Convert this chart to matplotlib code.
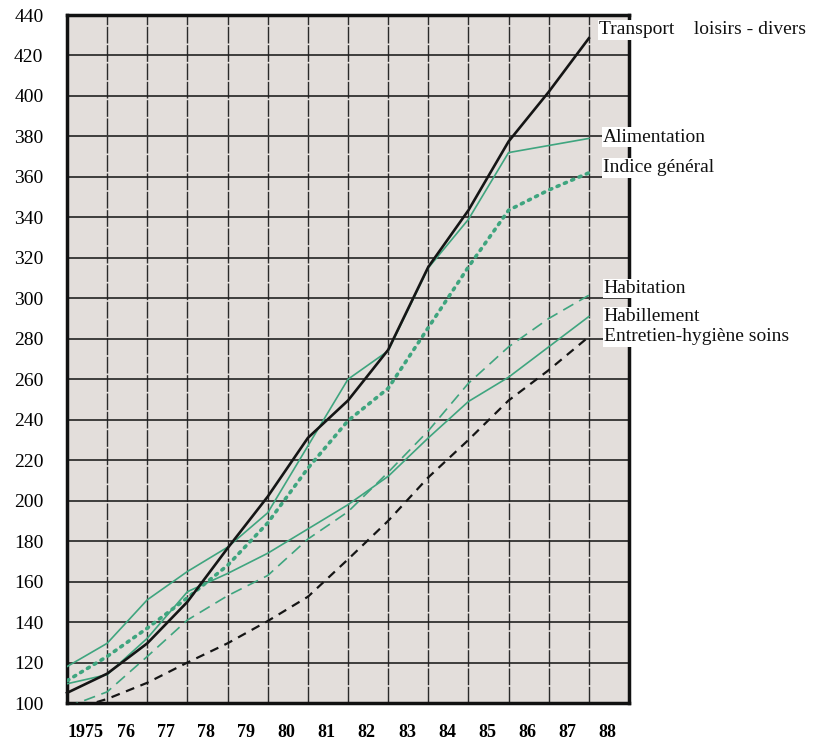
import matplotlib
matplotlib.use("Agg")
import matplotlib.pyplot as plt
import numpy as np

# ---------------- data ----------------
years = [1975, 1976, 1977, 1978, 1979, 1980, 1981, 1982, 1983, 1984, 1985, 1986, 1987, 1988]
year_labels = ["1975", "76", "77", "78", "79", "80", "81", "82", "83", "84", "85", "86", "87", "88"]

transport = [105, 114.5, 129.5, 150, 176.5, 202, 231, 249.5, 274.5, 315.5, 343.5, 377.5, 402, 428.5]
alimentation = [118, 129.5, 151, 165, 177, 194, 227, 260, 274, 315, 339, 372, 375.5, 379]
indice_general = [111, 123, 137, 152, 168, 189, 216, 239.5, 255.5, 285.5, 315.5, 343.5, 353.5, 362]
habitation = [98, 105.5, 123, 141, 153, 163, 181, 194.5, 214, 234.5, 258, 276, 290, 301.5]
habillement = [109.5, 114, 132, 155, 164, 174, 186, 198, 212, 231, 249, 261, 276, 291]
entretien = [96, 102, 110, 120, 129.5, 140.5, 152.5, 171, 190, 211.5, 230, 249.5, 264.5, 281]

series_names = ["Transport    loisirs - divers", "Alimentation", "Indice général",
                "Habitation", "Habillement", "Entretien-hygiène soins"]
y_ticks = list(range(100, 441, 20))

# ---------------- style ----------------
GREEN = "#3fa57f"
BG = "#e3dedb"
SERIF = ["Liberation Serif", "DejaVu Serif"]

fig = plt.figure(figsize=(8.14, 7.42), dpi=100)
ax = fig.add_axes([67 / 814, 1 - 703 / 742, (629 - 67) / 814, (703 - 15) / 742])
ax.set_facecolor(BG)

ax.set_xlim(1975, 1989)
ax.set_ylim(100, 440)

# grid
ax.set_xticks(np.arange(1975, 1990, 1))
ax.set_yticks(y_ticks)
ax.grid(axis="y", color="#222222", linewidth=1.2, zorder=1)
ax.grid(axis="x", color="#2a2a2a", linewidth=1.0, linestyle=(0, (12, 1.2)), zorder=1)
ax.set_axisbelow(True)
ax.set_xticklabels([])
ax.tick_params(axis="x", which="major", length=0)
ax.tick_params(axis="y", length=0, pad=17, labelsize=14)
for lab in ax.get_yticklabels():
    lab.set_family(SERIF)

# year labels as minor ticks between grid lines
ax.set_xticks([y + 0.47 for y in years], minor=True)
ax.set_xticklabels(year_labels, minor=True, fontfamily=SERIF, fontweight="bold", fontsize=13)
ax.tick_params(axis="x", which="minor", length=0, pad=15)

for s in ax.spines.values():
    s.set_linewidth(2.5)
    s.set_color("#111111")

# lines
ax.plot(years, transport, color="#151515", lw=1.9, zorder=5, clip_on=False)
ax.plot(years, alimentation, color=GREEN, lw=1.2, zorder=4)
ax.plot(years, indice_general, color=GREEN, lw=2.6, linestyle=(0, (0.6, 1.6)),
        dash_capstyle="round", zorder=4)
ax.plot(years, habitation, color=GREEN, lw=1.2, linestyle=(0, (7, 4)), zorder=4)
ax.plot(years, habillement, color=GREEN, lw=1.2, zorder=4)
ax.plot(years, entretien, color="#151515", lw=1.6, linestyle=(0, (4, 3)), zorder=4)

# series labels
label_x = [1988.25, 1988.35, 1988.35, 1988.37, 1988.37, 1988.37]
label_y = [432.6, 379.7, 364.4, 305.0, 290.8, 280.9]
for name, lx, ly in zip(series_names, label_x, label_y):
    ax.text(lx, ly, name, fontsize=14, fontfamily=SERIF, va="center", ha="left",
            color="#111111", clip_on=False, zorder=10,
            bbox=dict(facecolor="white", edgecolor="none", pad=0.8))

fig.savefig("out.png", dpi=100, facecolor="white")
